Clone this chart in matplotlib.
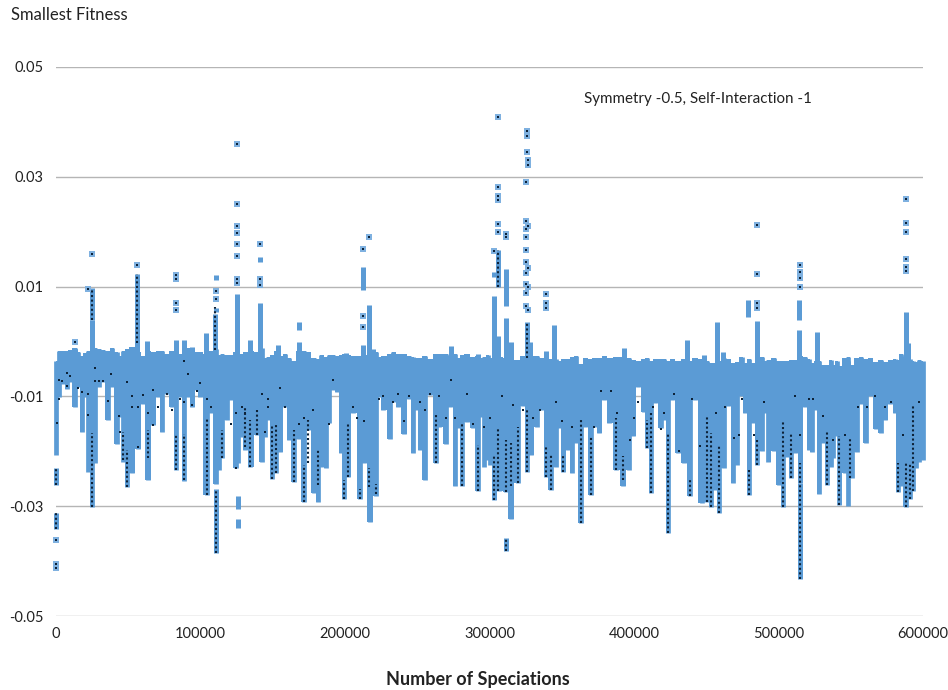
import matplotlib
matplotlib.use('Agg')
import matplotlib.pyplot as plt

# speciation count in thousands
col_x = [0, 2.3, 4.6, 7.4, 9.7, 13.1, 15.5, 17.8, 20, 22.4, 25.1, 27, 29.8, 32.3, 36.2, 38.5, 42, 44.3, 46.6, 48.9,
         52.8, 57, 60, 63.4, 67.4, 70.4, 73.1, 76.6, 80, 83, 85.8, 88.6, 91.6, 94.4, 97.4,
         99.7, 104.3, 107.3, 110.5, 112.8, 115.1, 118.1, 120.9, 124.3, 126.2, 128.5, 130.8, 134.5, 138.9,
         142.3, 144.6, 147, 149.5, 152.3, 155.3, 158.5, 161.3, 164.5, 168.2, 171.4, 174.6, 178.8, 181.6, 183.4,
         186.9, 189.2, 192, 194.3, 197.2, 199.3,
         202.3, 205.7, 210.3, 213.1, 217.3, 221.4, 223.7, 226.5, 231.1, 233.4, 236.9, 241, 244.5, 246.8, 249.1,
         251.9, 255.3, 258.8, 262.9, 265.2, 269.9, 273, 276.1, 278.4, 280.7, 284.6, 288.8, 291.8, 294.1, 296.4, 299.2,
         300.4, 303.4, 306.8, 311.2, 314.9, 319.5, 323.4, 326.2, 328.7, 332.7, 336.1, 338.9, 342.3, 345.8, 348.1,
         351.1, 354.6, 357.3, 359.6, 363.1, 366.1, 370, 372.3, 375.8, 379.5, 382.7, 387.6, 392.4, 396.6, 399.6,
         403, 406.9, 408.7, 411.5, 414.5, 418.4, 421, 423.5, 426, 430.6, 434.8, 438.7, 442.2, 446.8, 450.7, 453.3,
         456, 458.8, 462.3, 465.3, 468.7, 471.5, 474.5, 476.8, 479.3, 482.6, 484.9, 488.8, 490.6, 492.9, 496.9, 500.3,
         503.4, 505.7, 508.7, 511.4, 514.9, 518.4, 521.1, 523, 525.7, 527.8, 530.6, 533.4, 536.1, 538, 540.3, 542.1,
         546, 548.4, 550.7, 554.4, 557.1, 560.4, 563.4, 567.5, 570.7, 574, 577.2, 580.7, 582.5, 584.8, 588, 591,
         592.9, 595.2, 597.5, 600]
col_low = [-0.0207, -0.0101, -0.0077, -0.0086, -0.0073, -0.0119, -0.0083, -0.0165, -0.0101, -0.0237, -0.0301, -0.0222, -0.0083, -0.0073, -0.0143, -0.0083, -0.0186, -0.0137, -0.0219, -0.0265,
           -0.0240, -0.0195, -0.0113, -0.0253, -0.0152, -0.0101, -0.0165, -0.0095, -0.0119, -0.0234, -0.0101, -0.0254, -0.0101, -0.0119, -0.0089,
           -0.0101, -0.0280, -0.0131, -0.0259, -0.0234, -0.0213, -0.0143, -0.0107, -0.0231, -0.0222, -0.0174, -0.0198, -0.0228, -0.0171,
           -0.0219, -0.0174, -0.0143, -0.0250, -0.0240, -0.0201, -0.0119, -0.0180, -0.0256, -0.0177, -0.0292, -0.0161, -0.0276, -0.0292, -0.0228,
           -0.0231, -0.0149, -0.0089, -0.0092, -0.0204, -0.0286,
           -0.0246, -0.0131, -0.0286, -0.0222, -0.0328, -0.0282, -0.0101, -0.0125, -0.0177, -0.0110, -0.0119, -0.0168, -0.0104, -0.0204, -0.0125,
           -0.0198, -0.0253, -0.0098, -0.0222, -0.0155, -0.0186, -0.0120, -0.0264, -0.0158, -0.0264, -0.0146, -0.0158, -0.0273, -0.0137, -0.0228, -0.0216,
           -0.0225, -0.0288, -0.0273, -0.0275, -0.0324, -0.0258, -0.0118, -0.0237, -0.0206, -0.0155, -0.0124, -0.0247, -0.0270, -0.0228, -0.0158,
           -0.0237, -0.0197, -0.0240, -0.0185, -0.0331, -0.0155, -0.0279, -0.0155, -0.0166, -0.0106, -0.0149, -0.0234, -0.0264, -0.0234, -0.0173,
           -0.0082, -0.0128, -0.0194, -0.0276, -0.0112, -0.0158, -0.0143, -0.0349, -0.0106, -0.0203, -0.0222, -0.0282, -0.0106, -0.0295, -0.0292, -0.0301,
           -0.0270, -0.0313, -0.0231, -0.0118, -0.0258, -0.0225, -0.0100, -0.0131, -0.0279, -0.0149, -0.0225, -0.0200, -0.0131, -0.0219, -0.0200, -0.0261,
           -0.0302, -0.0210, -0.0249, -0.0204, -0.0258, -0.0119, -0.0198, -0.0201, -0.0125, -0.0278, -0.0185, -0.0261, -0.0228, -0.0213, -0.0173, -0.0298,
           -0.0240, -0.0300, -0.0249, -0.0201, -0.0113, -0.0184, -0.0100, -0.0160, -0.0167, -0.0143, -0.0113, -0.0131, -0.0275, -0.0264, -0.0302, -0.0286,
           -0.0273, -0.0231, -0.0219, -0.0216]
col_high = [-0.0036, -0.0018, -0.0017, -0.0017, -0.0016, -0.0011, -0.0020, -0.0026, -0.0021, -0.0017, -0.0014, -0.0012, -0.0014, -0.0016, -0.0018, -0.0012, -0.0020, -0.0026, -0.0018, -0.0014,
            -0.0010, -0.0020, -0.0026, -0.0018, -0.0020, -0.0018, -0.0018, -0.0022, -0.0018, -0.0020, -0.0022, -0.0018, -0.0012, -0.0016, -0.0020,
            -0.0020, -0.0022, -0.0018, -0.0014, -0.0024, -0.0022, -0.0024, -0.0024, -0.0020, -0.0022, -0.0022, -0.0020, -0.0018, -0.0020,
            -0.0012, -0.0030, -0.0028, -0.0024, -0.0018, -0.0026, -0.0022, -0.0030, -0.0036, -0.0018, -0.0018, -0.0020, -0.0030, -0.0032, -0.0024,
            -0.0028, -0.0024, -0.0024, -0.0026, -0.0024, -0.0022,
            -0.0024, -0.0026, -0.0026, -0.0024, -0.0024, -0.0020, -0.0028, -0.0026, -0.0022, -0.0020, -0.0022, -0.0022, -0.0026, -0.0028, -0.0030,
            -0.0030, -0.0026, -0.0032, -0.0022, -0.0022, -0.0022, -0.0026, -0.0022, -0.0030, -0.0024, -0.0022, -0.0028, -0.0026, -0.0030, -0.0028, -0.0024,
            -0.0030, -0.0026, -0.0028, -0.0030, -0.0034, -0.0034, -0.0026, -0.0026, -0.0026, -0.0026, -0.0030, -0.0030, -0.0032, -0.0032, -0.0036,
            -0.0032, -0.0032, -0.0028, -0.0026, -0.0041, -0.0030, -0.0032, -0.0030, -0.0030, -0.0026, -0.0030, -0.0028, -0.0028, -0.0030, -0.0034,
            -0.0036, -0.0032, -0.0030, -0.0036, -0.0032, -0.0032, -0.0032, -0.0036, -0.0032, -0.0036, -0.0032, -0.0036, -0.0030, -0.0032, -0.0036, -0.0040,
            -0.0040, -0.0036, -0.0030, -0.0032, -0.0040, -0.0038, -0.0028, -0.0040, -0.0032, -0.0040, -0.0030, -0.0028, -0.0036, -0.0034, -0.0030, -0.0036,
            -0.0036, -0.0036, -0.0034, -0.0034, -0.0026, -0.0028, -0.0032, -0.0040, -0.0036, -0.0036, -0.0042, -0.0042, -0.0034, -0.0042, -0.0036, -0.0044,
            -0.0030, -0.0028, -0.0042, -0.0030, -0.0028, -0.0032, -0.0030, -0.0038, -0.0034, -0.0038, -0.0034, -0.0032, -0.0034, -0.0022, -0.0032, -0.0032,
            -0.0036, -0.0038, -0.0034, -0.0036]

# narrow spikes and floating pieces above and below the band
peak_x = [0, 0, 13.1, 25.1, 25.1, 55.8, 62.7, 83, 88.6, 93.9, 103.6, 110, 110.7, 110.5, 110.5, 125, 134.3, 141.2, 141.2, 153.9, 168.4, 168.4,
          126.2, 126.2, 200.7, 212.2, 212.2, 216.8, 219.1, 273.3, 291.8, 303.4, 303.4, 306.1, 306.1, 311.2, 311.2, 314.9, 326, 328,
          311.6, 338.9, 338.9, 344.7, 393.3, 436.9, 448.4, 457.2, 461.3, 479.1, 485.1, 514.2, 514.2, 514.2, 526.9, 548.4, 584.8, 588, 589.9, 514.9]
peak_low = [-0.0262, -0.0341, -0.0040, -0.0040, 0.0039, -0.0040, -0.0040, -0.0040, -0.0040, -0.0040, -0.0040, -0.0040, -0.0386, 0.0054, 0.0112, -0.0040, -0.0040, -0.0040, 0.0144, -0.0040, -0.0040, 0.0021,
            -0.0306, -0.0339, -0.0040, -0.0040, 0.0094, -0.0040, -0.0040, -0.0040, -0.0040, -0.0040, 0.0118, -0.0040, 0.0100, -0.0040, 0.0064, -0.0040, -0.0040, -0.0040,
            -0.0381, -0.0040, 0.0061, -0.0040, -0.0040, -0.0050, -0.0050, -0.0050, -0.0050, 0.0045, -0.0050, -0.0050, 0.0039, 0.0100, -0.0050, -0.0050, -0.0050, -0.0050, -0.0050, -0.0433]
peak_high = [-0.0231, -0.0313, -0.0013, 0.0039, 0.0097, 0.0123, 0.0001, 0.0003, 0.0003, -0.0010, 0.0015, 0.0051, -0.0268, 0.0061, 0.0121, 0.0087, 0.0002, 0.0071, 0.0154, -0.0007, -0.0001, 0.0036,
             -0.0282, -0.0324, -0.0021, -0.0007, 0.0135, 0.0066, -0.0014, -0.0008, -0.0022, 0.0082, 0.0127, 0.0010, 0.0166, 0.0043, 0.0132, 0.0000, 0.0036, 0.0000,
             -0.0358, -0.0018, 0.0070, 0.0030, -0.0012, 0.0003, -0.0024, 0.0036, -0.0020, 0.0076, 0.0038, 0.0021, 0.0076, 0.0105, 0.0018, -0.0035, -0.0026, 0.0054, -0.0003, -0.0258]

# lone points
pt_x = [0, 0, 0, 13.1, 22.4, 25.1, 55.8, 83, 83, 83, 83, 110.5, 110.5, 125, 125, 125, 125, 125, 125, 125, 125, 141.2, 141.2, 141.2, 212.2, 212.2, 212.2,
        216.8, 303.4, 306.1, 306.1, 306.1, 306.1, 306.1, 306.1, 311.2, 311.2, 326.2, 326.2, 326.2, 326.6, 326.8, 325, 325, 326.8, 325, 325, 325,
        325.2, 326.8, 325.2, 325.2, 326.8, 325, 325.2, 326.8, 338.9, 338.9, 338.9, 485.1, 485.1, 485.1, 485.1, 514.9, 514.9, 514.9, 514.9, 588, 588, 588, 588, 588, 588]
pt_y = [-0.0362, -0.0405, -0.0413, -0.0001, 0.0095, 0.0159, 0.0139, 0.0121, 0.0114, 0.0070, 0.0057, 0.0092, 0.0077, 0.0114, 0.0107, 0.0155, 0.0178, 0.0210, 0.0198, 0.0250, 0.0359, 0.0103, 0.0114, 0.0178, 0.0168, 0.0047, 0.0027,
        0.0191, 0.0164, 0.0409, 0.0281, 0.0265, 0.0258, 0.0214, 0.0200, 0.0196, 0.0191, 0.0384, 0.0375, 0.0345, 0.0330, 0.0321, 0.0290, 0.0219, 0.0211, 0.0205, 0.0191, 0.0167,
        0.0144, 0.0134, 0.0125, 0.0105, 0.0099, 0.0088, 0.0064, 0.0058, 0.0086, 0.0070, 0.0061, 0.0213, 0.0123, 0.0071, 0.0061, 0.0139, 0.0126, 0.0115, 0.0100, 0.0260, 0.0215, 0.0200, 0.0150, 0.0135, 0.0128]

# dark dotted runs inside the columns
run_x = [25.1, 25.1, 55.8, 48.9, 46.6, 83, 88.6, 63.4, 0, 0,
         104.3, 110.7, 110.3, 115.1, 130.8, 134.5, 138.9, 149.5, 152.3, 164.5, 171.4, 181.6, 174.6, 199.3,
         202.3, 210.3, 216.8, 221.4, 262.9, 280.7, 291.8,
         303.4, 306.1, 306.1, 311.2, 315, 319.5, 326, 326.2, 338.9, 342.3, 351.1, 363.1, 370, 387.6, 392.4, 311.6,
         423.5, 411.5, 408.7, 438.7, 450.7, 453.3, 458.8, 479.3, 484.9,
         503.4, 508.7, 514.9, 533.4, 542.1, 549.3, 582.5, 588, 591, 592.9]
run_low = [-0.0301, 0.0040, -0.0002, -0.0265, -0.0216, -0.0234, -0.0253, -0.0213, -0.0262, -0.0341,
           -0.0280, -0.0386, -0.0015, -0.0213, -0.0192, -0.0228, -0.0171, -0.0250, -0.0240, -0.0256, -0.0292, -0.0262, -0.0222, -0.0286,
           -0.0246, -0.0286, -0.0265, -0.0277, -0.0222, -0.0264, -0.0273,
           -0.0288, 0.0100, -0.0273, -0.0275, -0.0264, -0.0258, -0.0030, -0.0237, -0.0247, -0.0270, -0.0237, -0.0331, -0.0279, -0.0234, -0.0252, -0.0381,
           -0.0349, -0.0276, -0.0194, -0.0282, -0.0292, -0.0301, -0.0313, -0.0279, -0.0225,
           -0.0302, -0.0249, -0.0433, -0.0261, -0.0298, -0.0249, -0.0275, -0.0302, -0.0286, -0.0273]
run_high = [-0.0167, 0.0097, 0.0123, -0.0198, -0.0165, -0.0168, -0.0168, -0.0161, -0.0231, -0.0313,
            -0.0140, -0.0268, 0.0063, -0.0161, -0.0119, -0.0143, -0.0125, -0.0152, -0.0152, -0.0161, -0.0225, -0.0198, -0.0143, -0.0253,
            -0.0149, -0.0268, -0.0231, -0.0259, -0.0131, -0.0149, -0.0189,
            -0.0206, 0.0166, -0.0158, -0.0179, -0.0185, -0.0155, 0.0036, -0.0124, -0.0188, -0.0206, -0.0206, -0.0140, -0.0173, -0.0140, -0.0209, -0.0358,
            -0.0167, -0.0131, -0.0143, -0.0252, -0.0137, -0.0167, -0.0191, -0.0234, -0.0179,
            -0.0143, -0.0167, -0.0222, -0.0161, -0.0173, -0.0176, -0.0222, -0.0222, -0.0222, -0.0113]

# scattered dark points in the band
dot_x = [0.5, 2.3, 2.3, 4.2, 7.4, 7.4, 9.5, 15.5, 18.2, 22.4, 22.4, 27, 27, 29.8, 32.3, 36.2, 38.2, 43.5, 44.3, 48.9, 52.8, 52.8, 57, 57, 60, 63.4, 67.4, 67.4, 70.4, 76.6, 80, 85.8, 88.6, 88.6, 91.6, 94.4, 97.4,
         99.7, 104.3, 107.3, 120.9, 124.3, 124.3, 128.5, 130.8, 142.3, 144.6, 147, 147, 155.3, 158.5, 168.2, 171.4, 178, 189, 192,
         205.7, 208, 213, 223.7, 226, 233.4, 237, 241, 244.5, 251.9, 255.3, 258.8, 265, 269.9, 273.5, 276, 284.6, 288.8, 296.4,
         300.4, 308.5, 316, 323.4, 330, 335, 345.8, 350, 357, 372.3, 377, 384, 388, 397,
         400, 403, 413, 418.4, 421, 428, 431, 440, 446, 457, 463, 469, 473, 475, 483, 490,
         511.4, 514.9, 521, 524, 530.6, 538, 546, 555, 561, 567, 574, 578, 586, 597]
dot_y = [-0.0149, -0.0104, -0.0071, -0.0072, -0.0058, -0.0081, -0.0063, -0.0084, -0.0092, -0.0134, -0.0095, -0.0049, -0.0072, -0.0072, -0.0072, -0.0108, -0.0060, -0.0135, -0.0165, -0.0074, -0.0100, -0.0120, -0.0120, -0.0193, -0.0098, -0.0130, -0.0152, -0.0088, -0.0120, -0.0095, -0.0125, -0.0105, -0.0110, -0.0035, -0.0060, -0.0115, -0.0090,
         -0.0075, -0.0105, -0.0120, -0.0150, -0.0230, -0.0130, -0.0120, -0.0130, -0.0095, -0.0165, -0.0105, -0.0120, -0.0085, -0.0120, -0.0150, -0.0140, -0.0125, -0.0150, -0.0070,
         -0.0120, -0.0140, -0.0145, -0.0105, -0.0100, -0.0110, -0.0095, -0.0145, -0.0100, -0.0110, -0.0125, -0.0095, -0.0100, -0.0140, -0.0070, -0.0140, -0.0095, -0.0150, -0.0155,
         -0.0140, -0.0100, -0.0115, -0.0125, -0.0140, -0.0125, -0.0110, -0.0145, -0.0155, -0.0155, -0.0090, -0.0090, -0.0130, -0.0180,
         -0.0140, -0.0110, -0.0120, -0.0160, -0.0130, -0.0095, -0.0200, -0.0105, -0.0190, -0.0130, -0.0120, -0.0175, -0.0170, -0.0105, -0.0170, -0.0110,
         -0.0100, -0.0170, -0.0105, -0.0105, -0.0135, -0.0180, -0.0170, -0.0120, -0.0120, -0.0100, -0.0120, -0.0110, -0.0170, -0.0110]

x_ticks = [0, 100000, 200000, 300000, 400000, 500000, 600000]
y_ticks = [-0.05, -0.03, -0.01, 0.01, 0.03, 0.05]

BLUE = '#5b9bd5'
NAVY = '#0d2238'


def to_spec(vals):
    return [v * 1000 for v in vals]


plt.rcParams['font.family'] = ['Lato', 'DejaVu Sans']

fig = plt.figure(figsize=(9.48, 6.9), dpi=100)
ax = fig.add_axes([56 / 948, 1 - 616 / 690, 867 / 948, 549 / 690])

ax.fill_between(to_spec(col_x), col_low, col_high, step='mid', color=BLUE, lw=0, zorder=2, clip_on=False)
ax.vlines(to_spec(col_x), col_low, col_high, color=BLUE, lw=3.4, zorder=2, clip_on=False)
ax.vlines(to_spec(peak_x), peak_low, peak_high, color=BLUE, lw=3.6, zorder=2, clip_on=False)
ax.scatter(to_spec(pt_x), pt_y, s=15, marker='s', color='#7fb1e0', lw=0, zorder=3, clip_on=False)
ax.vlines(to_spec(run_x), run_low, run_high, color=NAVY, lw=1.5, linestyles=(0, (1, 1.2)), zorder=4, clip_on=False)
ax.scatter(to_spec(pt_x), pt_y, s=4.5, marker='s', color=NAVY, lw=0, zorder=5, clip_on=False)
ax.scatter(to_spec(dot_x), dot_y, s=4, marker='s', color=NAVY, lw=0, zorder=5, clip_on=False)

ax.set_xlim(0, 600000)
ax.set_ylim(-0.05, 0.05)
ax.set_xticks(x_ticks)
ax.set_xticklabels([str(t) for t in x_ticks])
ax.set_yticks(y_ticks)
ax.set_yticklabels(['-0.05', '-0.03', '-0.01', '0.01', '0.03', '0.05'])
ax.tick_params(length=0, labelsize=10.5, colors='#222222')
ax.tick_params(axis='x', pad=8)
ax.tick_params(axis='y', pad=9)
ax.grid(axis='y', color='#b5b5b5', lw=1.0, zorder=1)
ax.set_axisbelow(True)
for s in ax.spines.values():
    s.set_visible(False)

fig.text(11 / 948, 1 - 15 / 690, 'Smallest Fitness', fontsize=12, color='#222222', va='center')
fig.text(584 / 948, 1 - 99 / 690, 'Symmetry -0.5, Self-Interaction -1', fontsize=10.9, color='#222222', va='center')
fig.text(478 / 948, 1 - 680 / 690, 'Number of Speciations', fontsize=13, fontweight='bold', color='#222222',
         ha='center', va='center')

fig.savefig('out.png', dpi=100)
